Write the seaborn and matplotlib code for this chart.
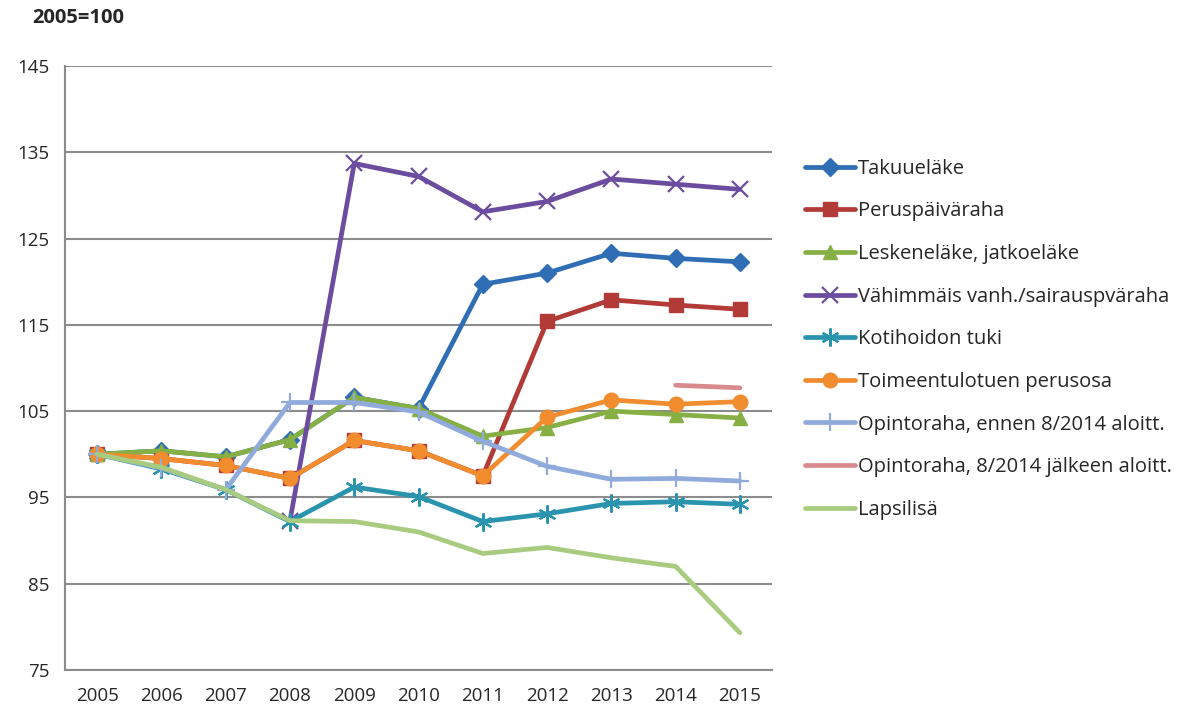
import numpy as np
import pandas as pd
import matplotlib
matplotlib.use("Agg")
import matplotlib.pyplot as plt
import seaborn as sns

years = ["2005", "2006", "2007", "2008", "2009", "2010",
         "2011", "2012", "2013", "2014", "2015"]

nan = np.nan
takuuelake = [100, 100.4, 99.7, 101.7, 106.6, 105.3, 119.7, 121.0, 123.3, 122.7, 122.3]
peruspaivaraha = [100, 99.5, 98.7, 97.2, 101.6, 100.4, 97.5, 115.4, 117.9, 117.3, 116.8]
leskenelake = [100, 100.4, 99.7, 101.7, 106.6, 105.3, 102.1, 103.1, 105.0, 104.6, 104.2]
vahimmais = [nan, nan, nan, 92.3, 133.7, 132.2, 128.1, 129.3, 131.9, 131.3, 130.7]
kotihoidon = [100, 98.3, 95.9, 92.2, 96.2, 95.1, 92.2, 93.1, 94.3, 94.5, 94.2]
toimeentulo = [100, 99.5, 98.7, 97.2, 101.6, 100.4, 97.5, 104.3, 106.3, 105.8, 106.1]
opintoraha_ennen = [100, 98.4, 95.9, 106.0, 106.0, 104.9, 101.5, 98.6, 97.1, 97.2, 96.9]
opintoraha_jalkeen = [nan, nan, nan, nan, nan, nan, nan, nan, nan, 108.0, 107.7]
lapsilisa = [100, 98.5, 95.9, 92.3, 92.2, 91.0, 88.5, 89.2, 88.0, 87.0, 79.3]

series = [
    ("Takuueläke", takuuelake, "#2F6DB5", "D", 9.5, 1),
    ("Peruspäiväraha", peruspaivaraha, "#B23A37", "s", 10, 1),
    ("Leskeneläke, jatkoeläke", leskenelake, "#86B043", "^", 10.5, 1),
    ("Vähimmäis vanh./sairauspväraha", vahimmais, "#6B4C9E", "x", 11, 1.6),
    ("Kotihoidon tuki", kotihoidon, "#2A94AF", (6, 2, 0), 13, 1.6),
    ("Toimeentulotuen perusosa", toimeentulo, "#F18C2F", "o", 10.5, 1),
    ("Opintoraha, ennen 8/2014 aloitt.", opintoraha_ennen, "#8FAADB", "+", 13, 1.6),
    ("Opintoraha, 8/2014 jälkeen aloitt.", opintoraha_jalkeen, "#D98A8C", None, 0, 1),
    ("Lapsilisä", lapsilisa, "#A8CB7F", None, 0, 1),
]

sns.set_style("white")
plt.rcParams["font.family"] = ["Open Sans", "DejaVu Sans"]

fig = plt.figure(figsize=(11.86, 7.11), dpi=100)
ax = fig.add_axes([0.0548, 0.0577, 0.5962, 0.8495])

x = np.arange(len(years))
for name, vals, color, marker, ms, mew in series:
    sns.lineplot(x=x, y=vals, ax=ax, color=color, linewidth=3.4,
                 marker=marker, markersize=ms, markeredgewidth=mew,
                 markeredgecolor=color, label=name)

ax.set_xlim(-0.5, len(years) - 0.5)
ax.set_ylim(75, 145)
ax.set_yticks(np.arange(75, 146, 10))
ax.set_xticks(x)
ax.set_xticklabels(years)
ax.set_xticks(np.arange(-0.5, len(years)), minor=True)
ax.tick_params(axis="x", which="major", length=0, labelsize=13.5, pad=12)
ax.tick_params(axis="x", which="minor", length=7, width=1.5, color="#8C8C8C", direction="out")
ax.tick_params(axis="y", length=7, width=1.5, color="#8C8C8C", direction="out",
               labelsize=13.5, pad=4)
ax.yaxis.grid(True, color="#8C8C8C", linewidth=1.5)
ax.set_axisbelow(True)
for s in ["top", "right"]:
    ax.spines[s].set_visible(False)
for s in ["left", "bottom"]:
    ax.spines[s].set_color("#8C8C8C")
    ax.spines[s].set_linewidth(1.5)
ax.set_xlabel("")
ax.set_ylabel("")

ax.legend(loc="upper left", bbox_to_anchor=(1.035, 0.860), frameon=False,
          fontsize=14.5, labelspacing=1.125, handlelength=2.5,
          handletextpad=0.15, borderaxespad=0)

fig.text(0.027, 0.974, "2005=100", fontsize=14.5, fontweight="bold", va="center")

fig.savefig("out.png", dpi=100)
